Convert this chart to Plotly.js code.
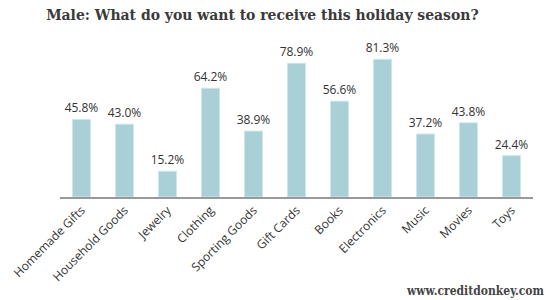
<!DOCTYPE html>
<html>
<head>
<meta charset="utf-8">
<script src="https://cdn.plot.ly/plotly-3.0.1.min.js"></script>
<style>html,body{margin:0;padding:0;background:#fff;}#chart{width:550px;height:300px;}</style>
</head>
<body>
<div id="chart"></div>
<script>
const categories = ["Homemade Gifts","Household Goods","Jewelry","Clothing","Sporting Goods","Gift Cards","Books","Electronics","Music","Movies","Toys"];
const values = [45.8, 43.0, 15.2, 64.2, 38.9, 78.9, 56.6, 81.3, 37.2, 43.8, 24.4];
const valueLabels = values.map(v => v.toFixed(1) + "%");

const trace = {
  type: "bar",
  x: categories,
  y: values,
  text: valueLabels,
  textposition: "outside",
  constraintext: "none",
  cliponaxis: false,
  textfont: {family: "Open Sans, sans-serif", size: 12, color: "#333"},
  marker: {color: "#a9cfd7", line: {color: "#cfe6ea", width: 1}},
  hoverinfo: "none"
};

const layout = {
  width: 550, height: 300,
  margin: {l: 60, r: 17, t: 40, b: 103},
  paper_bgcolor: "#fff", plot_bgcolor: "#fff",
  bargap: 0.58,
  showlegend: false,
  title: {
    text: "<b>Male: What do you want to receive this holiday season?</b>",
    font: {family: "DejaVu Serif Condensed, DejaVu Serif, serif", size: 15.5, color: "#3a3a3a"},
    x: 0.477, xanchor: "center", y: 0.95, yanchor: "middle"
  },
  xaxis: {
    type: "category",
    tickangle: -45,
    tickfont: {family: "Open Sans, sans-serif", size: 12, color: "#333"},
    showline: true, linecolor: "#999", linewidth: 1.5,
    ticks: "", showgrid: false, zeroline: false
  },
  yaxis: {
    range: [0, 92.7],
    visible: false, showgrid: false, zeroline: false
  },
  annotations: [{
    text: "<b>www.creditdonkey.com</b>",
    xref: "paper", yref: "paper",
    x: 1.03, y: -0.6, xanchor: "right", yanchor: "middle",
    showarrow: false,
    font: {family: "DejaVu Serif Condensed, DejaVu Serif, serif", size: 12, color: "#444"}
  }]
};

Plotly.newPlot("chart", [trace], layout, {displayModeBar: false, staticPlot: true});
</script>
</body>
</html>
